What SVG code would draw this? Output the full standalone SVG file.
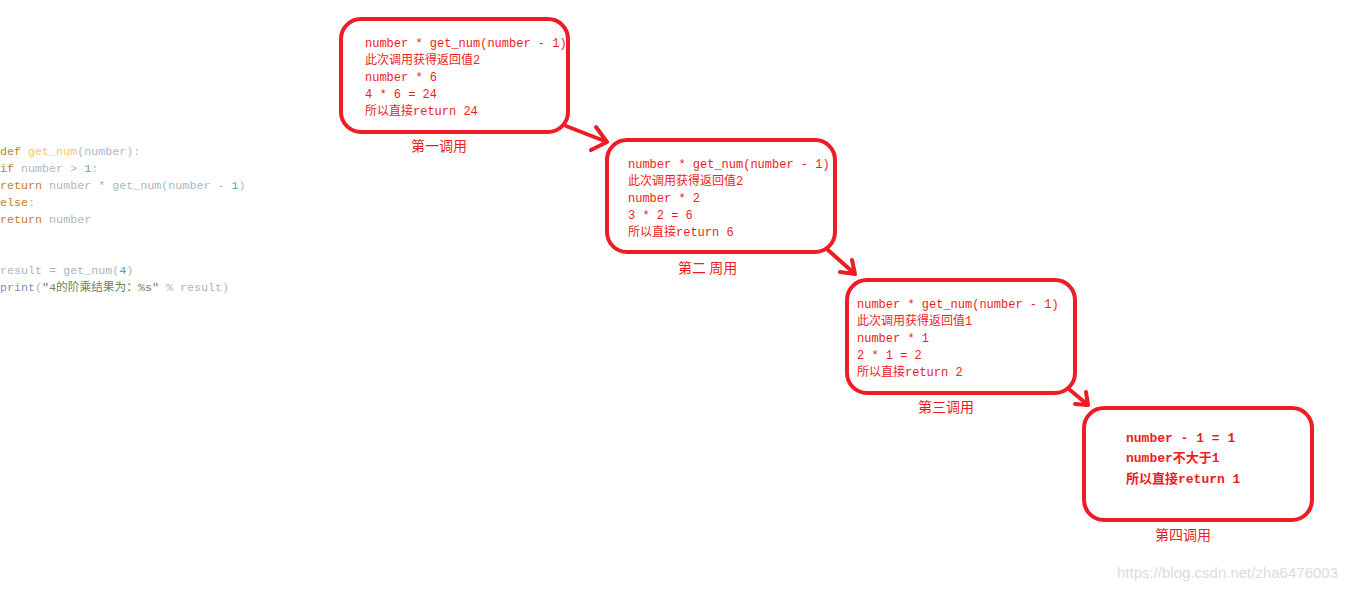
<svg xmlns="http://www.w3.org/2000/svg" width="1360" height="590" viewBox="0 0 1360 590">
<style>
.box{fill:#fff;stroke:#ee1c24;stroke-width:4}
.t{font-family:"Liberation Mono","Noto Sans CJK SC",monospace;font-size:12px;fill:#ee1c24}
.b{font-family:"Liberation Mono","Noto Sans CJK SC",monospace;font-size:13px;font-weight:bold;fill:#ee1c24}
.lbl{font-family:"Noto Sans CJK SC",sans-serif;font-size:14px;fill:#ee1c24}
.code{font-family:"Liberation Mono","Noto Sans CJK SC",monospace;font-size:11.7px;fill:#a9b7c6;white-space:pre}
.k{fill:#cc7832}.f{fill:#ffc66d}.n{fill:#6897bb}.p{fill:#8888c6}.s{fill:#6a8759}
.c{stroke:#ee1c24;stroke-width:4;fill:none;stroke-linecap:round;stroke-linejoin:round}
</style>
<rect width="1360" height="590" fill="#fff"/>
<g id="code" class="code" xml:space="preserve">
<text x="0" y="155"><tspan class="k">def </tspan><tspan class="f">get_num</tspan>(number):</text>
<text x="0" y="172">    <tspan class="k">if</tspan> number &gt; <tspan class="n">1</tspan>:</text>
<text x="0" y="189">        <tspan class="k">return</tspan> number * get_num(number - <tspan class="n">1</tspan>)</text>
<text x="0" y="206">    <tspan class="k">else</tspan>:</text>
<text x="0" y="223">        <tspan class="k">return</tspan> number</text>
<text x="0" y="274">result = get_num(<tspan class="n">4</tspan>)</text>
<text x="0" y="291"><tspan class="p">print</tspan>(<tspan class="s">"4的阶乘结果为：%s"</tspan> % result)</text>
</g>
<g id="connectors">
<path class="c" d="M566 126 L607 142 M596 127 L607 142 L591 150"/>
<path class="c" d="M828 250 L855 274 M852 260 L855 274 L840 272"/>
<path class="c" d="M1070 390 L1088 405 M1086 392 L1088 405 L1075 404"/>
</g>
<g id="n1">
<rect class="box" x="341" y="19" width="227" height="113" rx="20"/>
<text class="t" x="365" y="47">number * get_num(number - 1)</text>
<text class="t" x="365" y="64">此次调用获得返回值2</text>
<text class="t" x="365" y="81">number * 6</text>
<text class="t" x="365" y="98">4 * 6 = 24</text>
<text class="t" x="365" y="115">所以直接return 24</text>
<text class="lbl" x="411" y="151">第一调用</text>
</g>
<g id="n2">
<rect class="box" x="607" y="140" width="228" height="112" rx="20"/>
<text class="t" x="628" y="168">number * get_num(number - 1)</text>
<text class="t" x="628" y="185">此次调用获得返回值2</text>
<text class="t" x="628" y="202">number * 2</text>
<text class="t" x="628" y="219">3 * 2 = 6</text>
<text class="t" x="628" y="236">所以直接return 6</text>
<text class="lbl" x="678" y="273">第二 周用</text>
</g>
<g id="n3">
<rect class="box" x="847" y="280" width="228" height="113" rx="20"/>
<text class="t" x="857" y="308">number * get_num(number - 1)</text>
<text class="t" x="857" y="325">此次调用获得返回值1</text>
<text class="t" x="857" y="342">number * 1</text>
<text class="t" x="857" y="359">2 * 1 = 2</text>
<text class="t" x="857" y="376">所以直接return 2</text>
<text class="lbl" x="918" y="412">第三调用</text>
</g>
<g id="n4">
<rect class="box" x="1084" y="408" width="228" height="112" rx="20"/>
<text class="b" x="1126" y="442">number - 1 = 1</text>
<text class="b" x="1126" y="462">number不大于1</text>
<text class="b" x="1126" y="483">所以直接return 1</text>
<text class="lbl" x="1155" y="540">第四调用</text>
</g>
<text x="1117" y="578" font-family="Liberation Sans,sans-serif" font-size="15" fill="#dcdcdc">https://blog.csdn.net/zha6476003</text>
</svg>
